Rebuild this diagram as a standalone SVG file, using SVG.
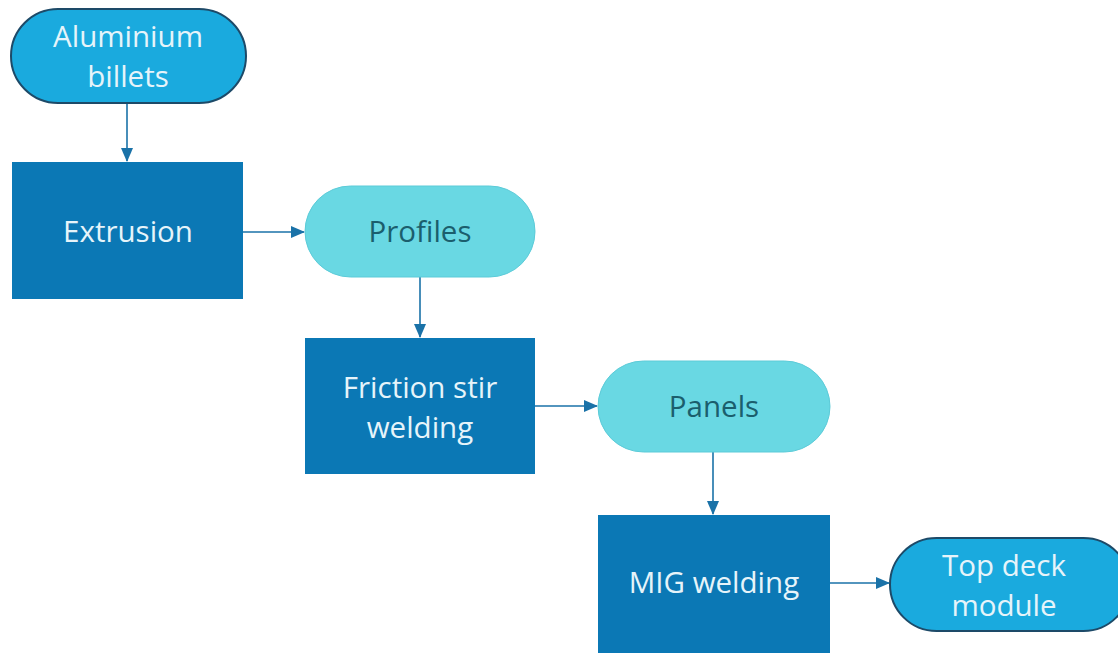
<svg xmlns="http://www.w3.org/2000/svg" width="1118" height="653" viewBox="0 0 1118 653">
  <defs>
    <marker id="arrow" markerWidth="14" markerHeight="12" refX="13" refY="6" orient="auto" markerUnits="userSpaceOnUse">
      <path d="M0,0 L14,6 L0,12 Z" fill="#1a72a8"/>
    </marker>
  </defs>
  <style>
    .terminal { fill: #1aaade; stroke: #1d4a68; stroke-width: 2; }
    .product { fill: #69d8e3; stroke: #5ccbd8; stroke-width: 1; }
    .process { fill: #0b78b5; }
    .label { font-family: "Open Sans", "Liberation Sans", sans-serif; font-size: 29.5px; text-anchor: middle; }
    .light { fill: #e6f4fa; }
    .dark { fill: #1b5e6d; }
    .conn { stroke: #1a72a8; stroke-width: 1.6; fill: none; marker-end: url(#arrow); }
  </style>

  <rect width="1118" height="653" fill="#ffffff"/>

  <g id="connectors">
    <line class="conn" x1="127" y1="103" x2="127" y2="161"/>
    <line class="conn" x1="243" y1="232" x2="304" y2="232"/>
    <line class="conn" x1="420" y1="277" x2="420" y2="337"/>
    <line class="conn" x1="535" y1="406" x2="597" y2="406"/>
    <line class="conn" x1="713" y1="452" x2="713" y2="514"/>
    <line class="conn" x1="830" y1="583" x2="889" y2="583"/>
  </g>

  <g id="aluminium-billets">
    <rect class="terminal" x="11" y="9" width="235" height="94" rx="47" ry="47"/>
    <text class="label light" x="128" y="47">Aluminium</text>
    <text class="label light" x="128" y="87">billets</text>
  </g>

  <g id="extrusion">
    <rect class="process" x="12" y="162" width="231" height="137"/>
    <text class="label light" x="128" y="242">Extrusion</text>
  </g>

  <g id="profiles">
    <rect class="product" x="305" y="186" width="230" height="91" rx="45.5" ry="45.5"/>
    <text class="label dark" x="420" y="242">Profiles</text>
  </g>

  <g id="friction-stir-welding">
    <rect class="process" x="305" y="338" width="230" height="136"/>
    <text class="label light" x="420" y="398">Friction stir</text>
    <text class="label light" x="420" y="438">welding</text>
  </g>

  <g id="panels">
    <rect class="product" x="598" y="361" width="232" height="91" rx="45.5" ry="45.5"/>
    <text class="label dark" x="714" y="417">Panels</text>
  </g>

  <g id="mig-welding">
    <rect class="process" x="598" y="515" width="232" height="140"/>
    <text class="label light" x="714" y="593">MIG welding</text>
  </g>

  <g id="top-deck-module">
    <rect class="terminal" x="890" y="538" width="240" height="93" rx="46.5" ry="46.5"/>
    <text class="label light" x="1004" y="576">Top deck</text>
    <text class="label light" x="1004" y="616">module</text>
  </g>
</svg>
